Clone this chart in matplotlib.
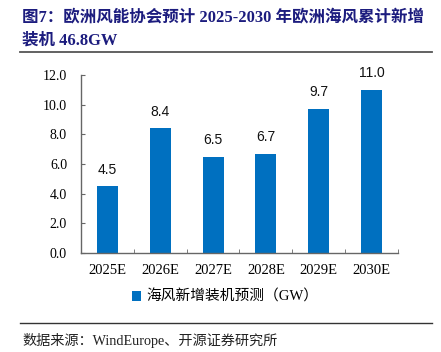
import matplotlib
matplotlib.use("Agg")
import matplotlib.pyplot as plt
from matplotlib.lines import Line2D
from matplotlib.patches import Patch

categories = ["2025E", "2026E", "2027E", "2028E", "2029E", "2030E"]
values = [4.5, 8.4, 6.5, 6.7, 9.7, 11.0]
yticks = [0, 2, 4, 6, 8, 10, 12]
ytick_labels = ["0.0", "2.0", "4.0", "6.0", "8.0", "10.0", "12.0"]
title_line1 = "图7：欧洲风能协会预计 2025-2030 年欧洲海风累计新增"
title_line2 = "装机 46.8GW"
legend_label = "海风新增装机预测（GW）"
source = "数据来源：WindEurope、开源证券研究所"

W, H = 441, 352
fig = plt.figure(figsize=(W / 100, H / 100), dpi=100)

serif_cjk = ["Liberation Serif", "Noto Sans CJK SC"]
title_color = "#1c1c7e"
bar_color = "#0070C0"

fig.text(22 / W, 1 - 17 / H, title_line1, family=serif_cjk, weight="bold",
         fontsize=11.9, color=title_color, va="center", ha="left")
fig.text(22 / W, 1 - 41 / H, title_line2, family=serif_cjk, weight="bold",
         fontsize=11.9, color=title_color, va="center", ha="left")

fig.add_artist(Line2D([20 / W, 432 / W], [1 - 52 / H, 1 - 52 / H],
                      color="#555555", lw=1.3, transform=fig.transFigure))
fig.add_artist(Line2D([20 / W, 432 / W], [1 - 323 / H, 1 - 323 / H],
                      color="#333333", lw=1.0, transform=fig.transFigure))

ax = fig.add_axes([81 / W, 1 - 253 / H, (398 - 81) / W, (253 - 75) / H])
x = list(range(len(categories)))
bars = ax.bar(x, values, width=0.4, color=bar_color, zorder=2)
ax.set_xlim(-0.5, len(categories) - 0.5)
ax.set_ylim(0, 12)
ax.set_yticks(yticks)
ax.set_yticklabels(ytick_labels, family="Liberation Serif", fontsize=10)
ax.set_xticks(x)
ax.set_xticklabels(categories, family="Liberation Serif", fontsize=10.5)
ax.tick_params(axis="x", length=0, pad=8)
ax.set_xticks([i + 0.5 for i in range(len(categories) - 1)] + [len(categories) - 0.5], minor=True)
ax.tick_params(axis="x", which="minor", direction="in", length=3, color="#666666")
ax.tick_params(axis="y", direction="in", length=3, color="#666666", pad=10)
for s in ["top", "right"]:
    ax.spines[s].set_visible(False)
for s in ["left", "bottom"]:
    ax.spines[s].set_color("#666666")
    ax.spines[s].set_linewidth(1.0)

for xi, v in zip(x, values):
    ax.annotate(f"{v:.1f}", (xi, v), xytext=(0, 7), textcoords="offset points",
                ha="center", va="bottom", fontsize=10, family="Liberation Sans",
                color="#111111")

handle = Patch(facecolor=bar_color, edgecolor="none")
leg = fig.legend([handle], [legend_label], loc="center",
                 bbox_to_anchor=(225 / W, 1 - 297 / H), frameon=False,
                 prop={"family": ["Liberation Serif", "Noto Sans CJK SC"], "size": 10.6},
                 handlelength=0.6, handleheight=0.6, handletextpad=0.35)

fig.text(22 / W, 1 - 340 / H, source, family=serif_cjk, fontsize=10.2,
         color="#222222", va="center", ha="left")

fig.savefig("out.png", dpi=100)
